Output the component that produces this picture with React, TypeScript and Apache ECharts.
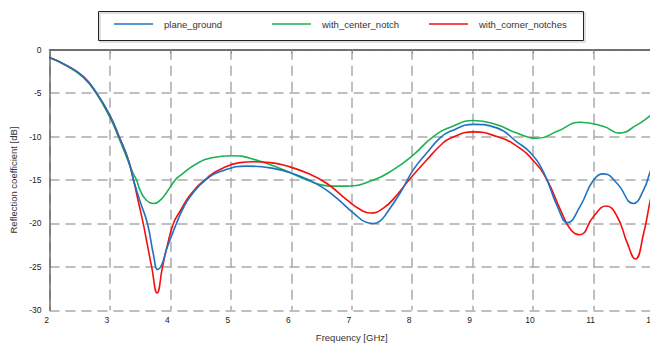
import React, { useEffect, useRef } from "react";
import * as echarts from "echarts";

const xTicks = [2, 3, 4, 5, 6, 7, 8, 9, 10, 11, 12];
const yTicks = [0, -5, -10, -15, -20, -25, -30];
const seriesNames = ["plane_ground", "with_center_notch", "with_corner_notches"];

const planeGround: number[][] = [
  [2.0, -0.9], [2.28, -1.8], [2.56, -3.1], [2.78, -5.0], [3.0, -7.6], [3.15, -10.0],
  [3.3, -12.6], [3.39, -15.0], [3.5, -17.5], [3.62, -20.0], [3.72, -23.6], [3.79, -25.3],
  [3.86, -24.7], [3.94, -22.9], [4.1, -20.0], [4.2, -18.4], [4.33, -16.9], [4.58, -15.0],
  [4.88, -13.9], [5.26, -13.4], [5.65, -13.6], [6.0, -14.2], [6.48, -15.7], [6.75, -17.1],
  [7.03, -18.8], [7.25, -19.9], [7.36, -20.0], [7.47, -19.7], [7.58, -18.8], [7.8, -16.5],
  [8.02, -13.8], [8.24, -11.9], [8.47, -10.1], [8.63, -9.4], [9.02, -8.6], [9.4, -9.0],
  [9.73, -10.6], [9.96, -11.9], [10.18, -14.2], [10.4, -18.0], [10.57, -19.9], [10.78, -18.0],
  [11.0, -15.0], [11.17, -14.3], [11.39, -15.4], [11.66, -17.7], [11.83, -16.1], [11.94, -14.0],
  [12.0, -13.0],
];

const withCenterNotch: number[][] = [
  [2.0, -0.9], [2.28, -1.85], [2.56, -3.2], [2.77, -5.0], [3.0, -7.8], [3.15, -10.2],
  [3.3, -12.8], [3.38, -14.2], [3.44, -15.0], [3.5, -16.2], [3.6, -17.3], [3.73, -17.7],
  [3.85, -17.2], [3.94, -16.4], [4.08, -15.0], [4.16, -14.5], [4.44, -13.1], [4.71, -12.4],
  [5.0, -12.2], [5.37, -12.6], [5.93, -14.0], [6.26, -15.0], [6.64, -15.7], [6.92, -15.7],
  [7.36, -15.0], [7.69, -13.8], [8.02, -12.1], [8.35, -10.0], [8.66, -8.85], [9.02, -8.15],
  [9.4, -8.65], [9.73, -9.6], [10.07, -10.2], [10.4, -9.4], [10.78, -8.35], [11.17, -8.85],
  [11.42, -9.6], [11.72, -8.65], [11.94, -7.6], [12.0, -7.3],
];

const withCornerNotches: number[][] = [
  [2.0, -0.9], [2.28, -1.8], [2.56, -3.1], [2.78, -5.0], [3.0, -7.6], [3.15, -10.0],
  [3.3, -12.6], [3.39, -15.0], [3.47, -17.5], [3.55, -20.0], [3.62, -22.5], [3.69, -25.0],
  [3.78, -28.0], [3.87, -25.0], [3.95, -22.5], [4.05, -20.0], [4.16, -18.6], [4.33, -16.7],
  [4.6, -14.8], [4.88, -13.6], [5.15, -13.0], [5.37, -12.9], [5.65, -13.0], [5.93, -13.4],
  [6.26, -14.2], [6.59, -15.4], [6.92, -17.3], [7.14, -18.4], [7.31, -18.8], [7.53, -18.2],
  [7.75, -16.7], [7.97, -14.8], [8.24, -12.7], [8.47, -11.0], [8.63, -10.2], [9.02, -9.46],
  [9.4, -10.0], [9.73, -11.1], [10.02, -12.9], [10.23, -15.0], [10.45, -18.4], [10.62, -20.7],
  [10.77, -21.3], [11.0, -19.2], [11.21, -18.0], [11.39, -19.2], [11.56, -22.3], [11.69, -24.1],
  [11.83, -21.1], [11.94, -17.3], [12.0, -15.8],
];

const colors = ["#1f72c0", "#1db153", "#f50f0f"];
const FONT = "Liberation Sans, Arial, sans-serif";

export default function App() {
  const ref = useRef<HTMLDivElement>(null);
  useEffect(() => {
    if (!ref.current) return;
    const chart = echarts.init(ref.current, null, { renderer: "svg" });
    const dataSets = [planeGround, withCenterNotch, withCornerNotches];
    const legendLefts = [114, 272, 429];
    chart.setOption({
      animation: false,
      backgroundColor: "#fff",
      textStyle: { fontFamily: FONT },
      grid: { left: 49.5, right: -4, top: 49.7, bottom: 33.7, outerBoundsMode: "none", containLabel: false },
      legend: seriesNames.map((n, i) => ({
        data: [n],
        left: legendLefts[i],
        top: 19,
        padding: 0,
        icon: "rect",
        itemWidth: 39,
        itemHeight: 1.5,
        textStyle: { fontSize: 9.5, color: "#333", fontFamily: FONT, padding: [0, 0, 0, 6] },
      })),
      graphic: [
        {
          type: "rect",
          shape: { x: 98.5, y: 11.5, width: 485, height: 29 },
          style: { fill: "none", stroke: "#222", lineWidth: 1, shadowColor: "rgba(0,0,0,0.25)", shadowOffsetX: 1.5, shadowOffsetY: 1.5, shadowBlur: 1 },
          z: 10,
        },
      ],
      xAxis: [
        {
          type: "value",
          min: xTicks[0],
          max: xTicks[xTicks.length - 1],
          interval: 1,
          name: "Frequency [GHz]",
          nameLocation: "middle",
          nameGap: 22,
          nameTextStyle: { fontSize: 9.5, color: "#333", fontFamily: FONT },
          axisLine: { lineStyle: { color: "#6a6a6a", width: 1.5 } },
          axisTick: { show: false },
          axisLabel: { fontSize: 8.5, color: "#222", margin: 5, padding: [0, 6, 0, 0], fontFamily: FONT, showMaxLabel: true },
          splitLine: { show: true, lineStyle: { color: "#ababab", width: 1.5, type: [10, 6] } },
        },
        {
          type: "value",
          position: "top",
          min: xTicks[0],
          max: xTicks[xTicks.length - 1],
          interval: 1,
          axisLine: { show: true, lineStyle: { color: "#6a6a6a", width: 1.5 } },
          axisTick: { show: true, inside: true, length: 4, lineStyle: { color: "#909090" } },
          axisLabel: { show: false },
          splitLine: { show: false },
        },
      ],
      yAxis: {
        type: "value",
        min: yTicks[yTicks.length - 1],
        max: yTicks[0],
        interval: 5,
        name: "Reflection coefficient [dB]",
        nameLocation: "middle",
        nameGap: 26,
        nameTextStyle: { fontSize: 9.5, color: "#333", fontFamily: FONT },
        axisLine: { show: true, lineStyle: { color: "#6a6a6a", width: 1.5 } },
        axisTick: { show: false },
        axisLabel: { fontSize: 8.5, color: "#222", margin: 8, fontFamily: FONT },
        splitLine: { show: true, lineStyle: { color: "#ababab", width: 1.5, type: [10, 6] } },
      },
      series: seriesNames.map((n, i) => ({
        name: n,
        type: "line",
        data: dataSets[i],
        showSymbol: false,
        smooth: 0.5,
        lineStyle: { color: colors[i], width: 1.6 },
        itemStyle: { color: colors[i] },
        z: i === 0 ? 3 : 2,
      })),
    });
    return () => chart.dispose();
  }, []);
  return <div ref={ref} style={{ position: "fixed", left: 0, top: 0, width: 650, height: 344 }} />;
}
